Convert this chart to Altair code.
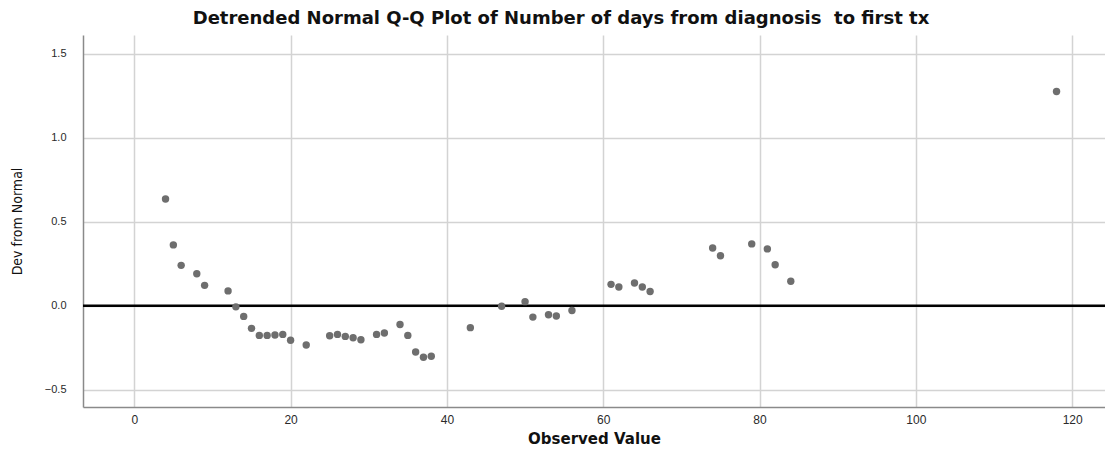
import altair as alt
import pandas as pd

observed = [4, 5, 6, 8, 9, 12, 13, 14, 15, 16, 17, 18, 19, 20, 22, 25, 26, 27, 28, 29,
            31, 32, 34, 35, 36, 37, 38, 43, 47, 50, 51, 53, 54, 56, 61, 62, 64, 65, 66,
            74, 75, 79, 81, 82, 84, 118]
dev = [0.636, 0.363, 0.241, 0.191, 0.122, 0.089, -0.006, -0.063, -0.134, -0.176, -0.176,
       -0.174, -0.170, -0.205, -0.233, -0.178, -0.170, -0.182, -0.190, -0.202, -0.170,
       -0.162, -0.111, -0.176, -0.275, -0.306, -0.300, -0.130, -0.002, 0.025, -0.067,
       -0.053, -0.061, -0.028, 0.128, 0.112, 0.136, 0.112, 0.085, 0.344, 0.298, 0.369,
       0.339, 0.245, 0.146, 1.277]
x_ticks = [0, 20, 40, 60, 80, 100, 120]
y_ticks = [-0.5, 0.0, 0.5, 1.0, 1.5]

df = pd.DataFrame({"obs": observed, "dev": dev})
zero = pd.DataFrame({"y": [0.0]})

xs = alt.Scale(domain=[-6.56, 124.2], nice=False, zero=False)
ys = alt.Scale(domain=[-0.6025, 1.613], nice=False, zero=False)

points = alt.Chart(df).mark_circle(size=55, color="#6e6e6e", opacity=1).encode(
    x=alt.X("obs:Q", scale=xs, title="Observed Value",
            axis=alt.Axis(values=x_ticks, grid=True, gridColor="#d3d3d3", gridWidth=1.5,
                          ticks=False, domainColor="#8a8a8a", domainWidth=1.5,
                          labelFont="Liberation Sans", labelFontSize=12, labelColor="#2a2a2a",
                          labelPadding=7, titleFont="DejaVu Sans", titleFontSize=15,
                          titleFontWeight="bold", titleColor="#111111", titlePadding=6)),
    y=alt.Y("dev:Q", scale=ys, title="Dev from Normal",
            axis=alt.Axis(values=y_ticks, format=".1f", grid=True, gridColor="#d3d3d3",
                          gridWidth=1.5, ticks=False, domainColor="#8a8a8a", domainWidth=1.5,
                          labelFont="Liberation Sans", labelFontSize=11, labelColor="#2a2a2a",
                          labelPadding=17, titleFont="DejaVu Sans Condensed, Liberation Sans",
                          titleFontSize=14, titleFontWeight="normal", titleColor="#111111",
                          titlePadding=20)),
)

zline = alt.Chart(zero).mark_rule(color="#000000", strokeWidth=2.5).encode(
    y=alt.Y("y:Q", scale=ys)
)

chart = alt.layer(zline, points).properties(
    width=1022, height=372,
    title=alt.TitleParams("Detrended Normal Q-Q Plot of Number of days from diagnosis\u00a0 to first tx",
                          font="DejaVu Sans", fontSize=18, fontWeight="bold",
                          color="#111111", offset=7, dx=-33),
    padding={"left": 75, "top": 27, "right": 0, "bottom": 40},
    autosize=alt.AutoSizeParams(type="none"),
).configure_view(stroke=None)

chart.save("out.html", embed_options={"renderer": "svg", "actions": False})
